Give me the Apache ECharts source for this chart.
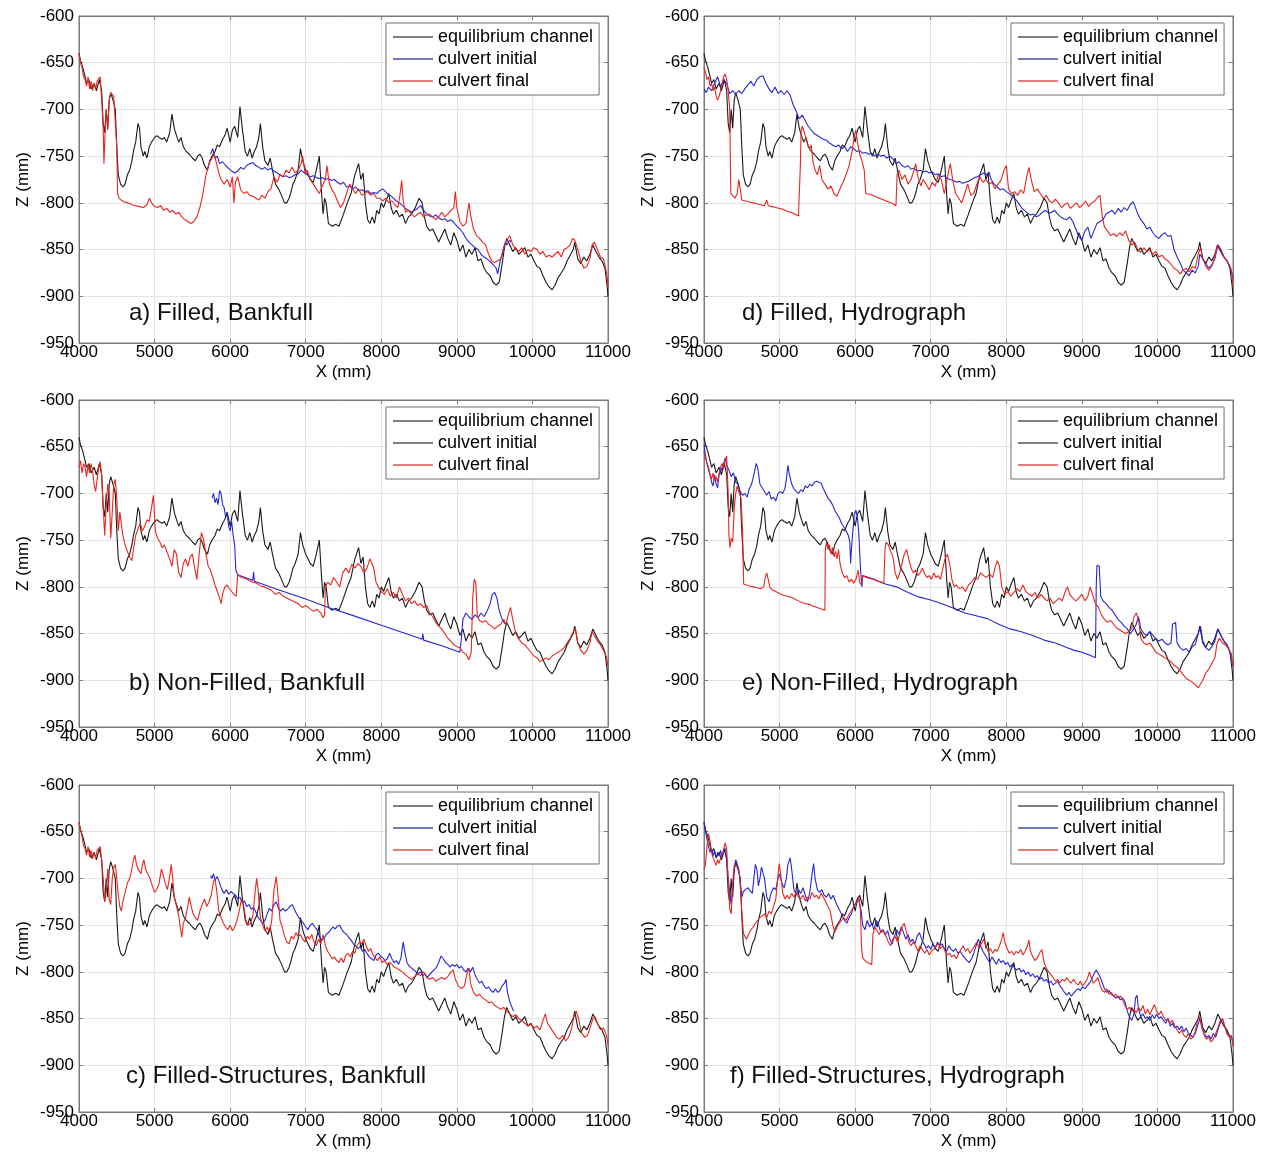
<!DOCTYPE html>
<html><head><meta charset="utf-8">
<script src="https://cdn.jsdelivr.net/npm/echarts/dist/echarts.min.js"></script>
<style>html,body{margin:0;padding:0;background:#fff}#chart{width:1270px;height:1162px}</style>
</head><body><div id="chart"></div>
<script>
// ---------- axis settings ----------
const X_MIN = 4000, X_MAX = 11000, X_STEP = 1000;
const Z_MIN = -950, Z_MAX = -600, Z_STEP = 50;
const X_NAME = 'X (mm)', Z_NAME = 'Z (mm)';
const seriesNames = ['equilibrium channel', 'culvert initial', 'culvert final'];
const panelLabels = ['a) Filled, Bankfull', 'b) Non-Filled, Bankfull', 'c) Filled-Structures, Bankfull',
                     'd) Filled, Hydrograph', 'e) Non-Filled, Hydrograph', 'f) Filled-Structures, Hydrograph'];

// ---------- data: [X (mm), Z (mm)] ----------
const eqChannel = [[4000,-640],[4020,-648],[4050,-655],[4080,-665],[4100,-672],[4130,-668],[4160,-678],[4200,-672],[4230,-680],[4270,-668],[4300,-680],[4320,-715],[4340,-725],[4360,-700],[4380,-720],[4400,-690],[4420,-682],[4450,-690],[4480,-700],[4500,-740],[4520,-770],[4550,-780],[4580,-783],[4610,-780],[4640,-770],[4670,-765],[4700,-755],[4720,-745],[4750,-735],[4780,-715],[4800,-720],[4820,-740],[4850,-750],[4870,-745],[4900,-752],[4930,-740],[4960,-735],[5000,-730],[5030,-728],[5060,-730],[5100,-732],[5130,-730],[5160,-735],[5200,-725],[5230,-705],[5260,-720],[5290,-728],[5320,-735],[5350,-730],[5380,-740],[5420,-745],[5460,-748],[5500,-752],[5540,-755],[5570,-750],[5600,-748],[5630,-752],[5660,-760],[5700,-765],[5730,-755],[5760,-750],[5800,-745],[5830,-738],[5860,-740],[5900,-732],[5930,-728],[5960,-720],[6000,-735],[6030,-722],[6060,-718],[6100,-730],[6130,-697],[6160,-720],[6200,-745],[6230,-750],[6260,-742],[6290,-752],[6320,-745],[6350,-740],[6380,-730],[6400,-715],[6430,-740],[6460,-755],[6500,-760],[6530,-752],[6560,-765],[6600,-780],[6640,-785],[6680,-792],[6720,-800],[6750,-800],[6780,-795],[6800,-790],[6830,-780],[6860,-775],[6900,-765],[6930,-742],[6960,-755],[7000,-765],[7030,-770],[7060,-775],[7100,-778],[7140,-765],[7180,-750],[7210,-790],[7230,-812],[7250,-795],[7270,-800],[7300,-822],[7350,-825],[7400,-823],[7440,-825],[7500,-812],[7550,-800],[7600,-790],[7650,-770],[7700,-758],[7730,-775],[7760,-768],[7790,-800],[7820,-818],[7850,-822],[7880,-815],[7910,-822],[7940,-808],[7970,-812],[8000,-800],[8030,-805],[8060,-798],[8100,-790],[8130,-805],[8160,-812],[8200,-808],[8240,-815],[8280,-812],[8320,-822],[8360,-815],[8400,-812],[8450,-805],[8500,-795],[8540,-800],[8570,-815],[8600,-825],[8640,-830],[8680,-828],[8720,-835],[8760,-842],[8800,-835],[8840,-828],[8880,-838],[8920,-845],[8960,-832],[9000,-840],[9040,-852],[9080,-845],[9120,-858],[9160,-850],[9200,-855],[9240,-848],[9280,-862],[9320,-860],[9360,-870],[9400,-875],[9440,-878],[9480,-885],[9520,-888],[9560,-885],[9600,-865],[9630,-848],[9660,-838],[9700,-845],[9740,-852],[9780,-848],[9820,-855],[9860,-852],[9900,-848],[9940,-858],[9980,-855],[10020,-862],[10060,-868],[10100,-870],[10140,-878],[10180,-885],[10220,-890],[10260,-893],[10300,-888],[10340,-880],[10380,-875],[10420,-870],[10460,-862],[10500,-856],[10540,-850],[10560,-842],[10600,-860],[10640,-865],[10680,-858],[10720,-862],[10760,-855],[10800,-845],[10840,-852],[10880,-858],[10920,-862],[10960,-870],[10990,-890],[11000,-900]];

// a) Filled, Bankfull
const initA = [[5740,-748],[5770,-742],[5800,-752],[5830,-750],[5860,-758],[5900,-756],[5940,-760],[5980,-763],[6020,-766],[6060,-768],[6100,-766],[6140,-762],[6180,-764],[6220,-760],[6260,-758],[6300,-757],[6340,-760],[6380,-762],[6420,-764],[6460,-762],[6500,-765],[6540,-763],[6580,-766],[6620,-768],[6660,-770],[6700,-772],[6740,-771],[6780,-773],[6820,-772],[6860,-770],[6900,-769],[6940,-765],[6980,-768],[7020,-770],[7060,-772],[7100,-771],[7140,-773],[7180,-774],[7220,-773],[7260,-775],[7300,-774],[7340,-776],[7380,-775],[7420,-778],[7460,-780],[7500,-778],[7540,-783],[7580,-782],[7620,-785],[7660,-783],[7700,-787],[7740,-786],[7780,-788],[7820,-787],[7860,-790],[7900,-789],[7940,-790],[7980,-787],[8020,-785],[8040,-784],[8080,-790],[8120,-792],[8160,-795],[8200,-798],[8240,-800],[8280,-803],[8320,-806],[8360,-808],[8400,-810],[8440,-808],[8480,-806],[8520,-803],[8560,-808],[8600,-812],[8640,-814],[8680,-815],[8720,-813],[8760,-816],[8800,-818],[8840,-817],[8880,-820],[8920,-818],[8960,-821],[9000,-825],[9040,-828],[9080,-832],[9120,-838],[9160,-842],[9200,-845],[9240,-848],[9280,-850],[9320,-855],[9360,-858],[9400,-860],[9440,-863],[9480,-866],[9520,-870],[9540,-876],[9560,-868],[9580,-860],[9600,-856],[9620,-848],[9640,-842],[9660,-845],[9700,-840],[9720,-842]];
const finalA = [[4000,-640],[4020,-650],[4040,-655],[4060,-665],[4080,-668],[4100,-675],[4120,-665],[4140,-678],[4160,-670],[4180,-680],[4200,-672],[4220,-678],[4240,-670],[4260,-668],[4280,-665],[4300,-690],[4320,-720],[4330,-758],[4345,-725],[4360,-700],[4380,-722],[4400,-690],[4420,-682],[4440,-683],[4460,-686],[4480,-688],[4500,-740],[4510,-790],[4530,-795],[4560,-797],[4600,-799],[4650,-800],[4700,-802],[4750,-803],[4800,-804],[4850,-805],[4900,-802],[4930,-795],[4960,-800],[5000,-804],[5040,-805],[5080,-803],[5120,-808],[5160,-806],[5200,-810],[5240,-808],[5280,-812],[5320,-810],[5360,-815],[5400,-818],[5440,-820],[5480,-822],[5520,-820],[5560,-815],[5600,-805],[5640,-790],[5680,-770],[5720,-758],[5760,-752],[5790,-748],[5820,-758],[5850,-768],[5880,-775],[5920,-780],[5960,-775],[6000,-783],[6030,-772],[6050,-800],[6070,-778],[6100,-772],[6140,-786],[6180,-790],[6220,-788],[6260,-792],[6300,-793],[6340,-795],[6380,-797],[6420,-792],[6460,-795],[6500,-788],[6540,-785],[6580,-772],[6620,-778],[6660,-770],[6700,-772],[6740,-765],[6780,-768],[6820,-762],[6860,-768],[6900,-765],[6940,-758],[6960,-750],[6990,-768],[7020,-765],[7060,-775],[7100,-780],[7140,-785],[7180,-790],[7220,-782],[7260,-775],[7280,-760],[7310,-778],[7340,-785],[7380,-790],[7420,-798],[7460,-805],[7500,-800],[7540,-790],[7580,-780],[7620,-785],[7660,-790],[7700,-785],[7740,-792],[7780,-790],[7820,-788],[7860,-792],[7900,-790],[7940,-795],[7980,-795],[8020,-798],[8060,-795],[8100,-800],[8140,-798],[8180,-802],[8220,-805],[8250,-790],[8270,-776],[8290,-798],[8320,-810],[8360,-808],[8400,-812],[8440,-815],[8480,-812],[8520,-810],[8560,-815],[8600,-813],[8640,-812],[8680,-815],[8720,-818],[8760,-815],[8800,-810],[8840,-815],[8880,-812],[8920,-808],[8960,-805],[8980,-788],[9000,-805],[9040,-820],[9080,-825],[9120,-822],[9160,-800],[9180,-812],[9220,-828],[9260,-835],[9300,-838],[9340,-842],[9380,-845],[9420,-855],[9460,-862],[9500,-864],[9540,-862],[9580,-860],[9620,-848],[9660,-840],[9700,-835],[9740,-845],[9780,-850],[9820,-852],[9860,-848],[9900,-855],[9940,-850],[9980,-852],[10020,-848],[10060,-850],[10100,-855],[10140,-852],[10180,-858],[10220,-856],[10260,-858],[10300,-855],[10340,-852],[10380,-858],[10420,-850],[10460,-848],[10500,-845],[10530,-838],[10560,-840],[10600,-850],[10640,-862],[10680,-870],[10720,-868],[10760,-860],[10790,-845],[10820,-842],[10860,-850],[10900,-858],[10940,-860],[10970,-870],[10990,-880],[11000,-890]];

// b) Non-Filled, Bankfull
const initB = [[5760,-705],[5780,-700],[5800,-710],[5820,-705],[5840,-712],[5860,-697],[5880,-700],[5900,-712],[5920,-715],[5940,-725],[5960,-722],[5980,-735],[6000,-740],[6020,-730],[6040,-745],[6060,-755],[6075,-782],[6090,-784],[6100,-787],[6300,-793],[6310,-784],[6320,-794],[6600,-802],[7000,-813],[7300,-822],[7600,-830],[8000,-841],[8400,-852],[8540,-856],[8550,-850],[8560,-857],[8800,-863],[9040,-870],[9060,-855],[9080,-835],[9120,-828],[9160,-832],[9200,-835],[9240,-830],[9280,-833],[9320,-828],[9360,-832],[9400,-826],[9440,-818],[9470,-808],[9500,-806],[9530,-812],[9560,-825],[9600,-835],[9640,-840]];
const finalB = [[4000,-672],[4020,-665],[4040,-678],[4060,-668],[4080,-672],[4100,-682],[4120,-670],[4140,-678],[4160,-668],[4180,-676],[4200,-690],[4220,-698],[4240,-685],[4260,-672],[4280,-666],[4300,-680],[4320,-715],[4340,-745],[4360,-712],[4380,-690],[4400,-700],[4420,-748],[4440,-720],[4460,-690],[4480,-685],[4500,-705],[4520,-740],[4540,-720],[4560,-718],[4580,-745],[4610,-755],[4640,-762],[4670,-768],[4700,-772],[4720,-760],[4750,-745],[4780,-738],[4810,-732],[4840,-740],[4870,-735],[4900,-728],[4930,-730],[4960,-715],[4985,-702],[5010,-740],[5040,-748],[5070,-752],[5100,-758],[5130,-755],[5160,-762],[5200,-770],[5230,-778],[5260,-760],[5290,-765],[5320,-785],[5350,-790],[5380,-775],[5410,-770],[5440,-778],[5470,-768],[5500,-765],[5530,-780],[5560,-792],[5590,-765],[5620,-742],[5650,-750],[5680,-765],[5710,-778],[5740,-782],[5770,-790],[5800,-798],[5830,-805],[5860,-812],[5880,-818],[5900,-808],[5930,-800],[5960,-798],[5990,-802],[6020,-805],[6050,-808],[6080,-810],[6100,-787],[6150,-790],[6200,-791],[6250,-793],[6300,-795],[6350,-796],[6400,-799],[6450,-800],[6500,-802],[6550,-804],[6600,-808],[6650,-806],[6700,-810],[6750,-812],[6800,-814],[6850,-816],[6900,-818],[6950,-822],[7000,-820],[7050,-823],[7100,-826],[7150,-824],[7200,-828],[7230,-833],[7250,-830],[7260,-800],[7290,-795],[7330,-798],[7370,-790],[7410,-795],[7450,-800],[7490,-785],[7530,-780],[7570,-785],[7610,-776],[7650,-780],[7690,-775],[7730,-778],[7770,-785],[7810,-780],[7850,-770],[7870,-768],[7900,-780],[7930,-795],[7960,-800],[8000,-805],[8040,-808],[8080,-802],[8120,-810],[8160,-806],[8200,-812],[8240,-800],[8280,-808],[8320,-815],[8360,-812],[8400,-818],[8440,-815],[8480,-820],[8520,-818],[8560,-822],[8600,-820],[8640,-828],[8680,-832],[8720,-838],[8760,-842],[8800,-845],[8840,-850],[8880,-855],[8920,-858],[8960,-862],[9000,-864],[9040,-865],[9080,-870],[9120,-872],[9160,-878],[9190,-870],[9210,-812],[9230,-792],[9250,-795],[9270,-830],[9300,-836],[9340,-838],[9380,-836],[9420,-840],[9460,-842],[9500,-845],[9540,-842],[9580,-840],[9620,-835],[9650,-840],[9680,-830],[9710,-822],[9740,-835],[9780,-850],[9820,-856],[9860,-860],[9900,-862],[9940,-866],[9980,-870],[10020,-874],[10060,-876],[10100,-880],[10140,-878],[10180,-876],[10220,-878],[10260,-874],[10300,-872],[10340,-870],[10380,-868],[10420,-865],[10460,-860],[10500,-855],[10540,-848],[10570,-845],[10600,-860],[10640,-868],[10680,-872],[10720,-868],[10760,-860],[10790,-848],[10820,-852],[10860,-858],[10900,-862],[10940,-868],[10980,-875],[11000,-885]];

// c) Filled-Structures, Bankfull
const initC = [[5740,-697],[5760,-700],[5780,-695],[5800,-702],[5830,-698],[5860,-705],[5890,-712],[5920,-716],[5950,-712],[5980,-717],[6010,-714],[6040,-716],[6070,-718],[6100,-722],[6130,-720],[6160,-726],[6190,-724],[6220,-730],[6250,-728],[6280,-733],[6310,-731],[6340,-736],[6370,-742],[6400,-745],[6430,-748],[6460,-745],[6490,-738],[6520,-732],[6550,-735],[6580,-728],[6610,-725],[6640,-732],[6670,-735],[6700,-732],[6730,-735],[6760,-733],[6790,-730],[6820,-728],[6850,-733],[6880,-738],[6910,-742],[6940,-745],[6970,-748],[7000,-752],[7030,-755],[7060,-750],[7090,-748],[7120,-752],[7150,-755],[7180,-762],[7210,-766],[7240,-765],[7270,-760],[7300,-758],[7330,-755],[7360,-752],[7390,-754],[7420,-751],[7450,-750],[7480,-755],[7510,-758],[7540,-760],[7570,-763],[7600,-766],[7630,-770],[7660,-772],[7690,-775],[7720,-773],[7750,-778],[7780,-776],[7810,-780],[7840,-784],[7870,-786],[7900,-788],[7930,-782],[7960,-780],[7990,-783],[8020,-785],[8050,-788],[8080,-786],[8110,-780],[8140,-786],[8170,-790],[8200,-788],[8230,-792],[8260,-785],[8290,-768],[8310,-778],[8340,-790],[8370,-794],[8400,-796],[8430,-798],[8460,-800],[8490,-802],[8520,-800],[8550,-804],[8580,-802],[8610,-806],[8640,-803],[8670,-800],[8700,-798],[8730,-795],[8760,-790],[8790,-783],[8820,-786],[8850,-790],[8880,-792],[8910,-795],[8940,-792],[8970,-794],[9000,-792],[9030,-796],[9060,-794],[9090,-798],[9120,-800],[9150,-796],[9180,-800],[9210,-795],[9240,-803],[9270,-808],[9300,-812],[9330,-810],[9360,-815],[9390,-818],[9420,-816],[9450,-820],[9480,-822],[9510,-818],[9540,-822],[9570,-820],[9600,-815],[9630,-812],[9650,-808],[9670,-822],[9700,-832],[9730,-838],[9750,-842]];
const finalC = [[4000,-640],[4020,-648],[4040,-655],[4060,-665],[4080,-668],[4100,-675],[4120,-666],[4140,-677],[4160,-670],[4180,-679],[4200,-672],[4220,-678],[4240,-670],[4260,-668],[4280,-666],[4300,-680],[4320,-700],[4340,-725],[4360,-715],[4380,-690],[4400,-722],[4420,-728],[4440,-700],[4460,-688],[4480,-685],[4500,-700],[4520,-718],[4540,-730],[4560,-735],[4580,-725],[4610,-715],[4640,-705],[4670,-700],[4700,-690],[4720,-680],[4740,-675],[4760,-685],[4780,-690],[4800,-688],[4820,-695],[4840,-685],[4860,-680],[4880,-690],[4910,-695],[4940,-700],[4970,-708],[5000,-715],[5030,-712],[5060,-705],[5090,-690],[5110,-695],[5140,-705],[5170,-712],[5200,-698],[5220,-685],[5240,-700],[5260,-720],[5290,-730],[5320,-740],[5340,-752],[5360,-763],[5380,-748],[5410,-742],[5440,-730],[5460,-720],[5480,-728],[5510,-738],[5540,-742],[5570,-745],[5600,-735],[5630,-728],[5660,-722],[5690,-730],[5720,-725],[5750,-718],[5780,-703],[5800,-700],[5820,-712],[5850,-735],[5880,-742],[5910,-748],[5940,-752],[5970,-755],[6000,-750],[6030,-756],[6060,-752],[6090,-745],[6120,-735],[6150,-722],[6180,-730],[6210,-745],[6240,-750],[6270,-748],[6300,-740],[6330,-715],[6350,-700],[6370,-712],[6400,-742],[6430,-750],[6460,-756],[6490,-752],[6520,-758],[6550,-745],[6580,-712],[6610,-698],[6630,-715],[6660,-745],[6690,-752],[6720,-762],[6750,-768],[6780,-770],[6810,-762],[6840,-765],[6870,-758],[6900,-762],[6930,-760],[6960,-765],[6990,-768],[7020,-762],[7050,-765],[7080,-760],[7110,-768],[7140,-772],[7170,-765],[7200,-770],[7230,-760],[7260,-772],[7290,-778],[7320,-782],[7350,-786],[7380,-784],[7410,-788],[7440,-790],[7470,-785],[7500,-790],[7530,-782],[7560,-780],[7590,-784],[7620,-778],[7650,-780],[7680,-772],[7710,-768],[7740,-770],[7770,-765],[7800,-772],[7830,-778],[7860,-775],[7890,-782],[7920,-785],[7950,-788],[7980,-784],[8010,-790],[8040,-788],[8080,-792],[8120,-790],[8160,-794],[8200,-796],[8240,-798],[8280,-800],[8320,-803],[8360,-806],[8400,-808],[8440,-805],[8480,-802],[8520,-804],[8560,-800],[8600,-806],[8640,-808],[8680,-806],[8720,-810],[8760,-808],[8800,-806],[8840,-808],[8880,-805],[8920,-800],[8950,-798],[8980,-808],[9020,-815],[9060,-818],[9100,-815],[9140,-800],[9160,-796],[9180,-812],[9220,-822],[9260,-826],[9300,-824],[9340,-828],[9380,-830],[9420,-833],[9460,-832],[9500,-836],[9540,-838],[9580,-840],[9620,-838],[9660,-842],[9700,-845],[9740,-848],[9780,-846],[9820,-850],[9860,-852],[9900,-855],[9940,-858],[9980,-856],[10020,-860],[10060,-858],[10100,-862],[10140,-852],[10170,-845],[10200,-855],[10240,-860],[10280,-865],[10320,-870],[10360,-872],[10400,-868],[10440,-874],[10480,-870],[10520,-860],[10550,-848],[10580,-842],[10610,-850],[10650,-865],[10690,-870],[10730,-868],[10770,-858],[10800,-850],[10830,-848],[10860,-855],[10900,-862],[10940,-860],[10980,-868],[11000,-878]];

// d) Filled, Hydrograph
const initD = [[4000,-678],[4030,-682],[4060,-676],[4100,-680],[4140,-672],[4180,-665],[4220,-676],[4260,-668],[4300,-672],[4340,-683],[4380,-680],[4420,-684],[4460,-680],[4500,-683],[4540,-678],[4580,-674],[4620,-670],[4660,-675],[4700,-668],[4740,-665],[4780,-664],[4820,-672],[4860,-678],[4900,-682],[4940,-676],[4980,-683],[5020,-680],[5060,-684],[5100,-680],[5140,-685],[5180,-695],[5220,-702],[5260,-710],[5300,-706],[5340,-712],[5380,-718],[5420,-722],[5460,-726],[5500,-728],[5540,-730],[5580,-732],[5620,-733],[5660,-736],[5700,-738],[5740,-740],[5780,-738],[5820,-742],[5860,-740],[5900,-745],[5940,-740],[5980,-742],[6020,-745],[6060,-744],[6100,-747],[6140,-746],[6180,-748],[6220,-747],[6260,-750],[6300,-748],[6340,-750],[6380,-749],[6420,-752],[6460,-750],[6500,-753],[6540,-758],[6580,-756],[6620,-760],[6660,-762],[6700,-760],[6740,-764],[6780,-763],[6820,-766],[6860,-765],[6900,-767],[6940,-766],[6980,-768],[7020,-767],[7060,-770],[7100,-769],[7140,-772],[7180,-771],[7220,-774],[7260,-775],[7300,-776],[7340,-778],[7380,-777],[7420,-779],[7460,-778],[7500,-777],[7540,-775],[7580,-773],[7620,-772],[7660,-770],[7700,-768],[7740,-770],[7770,-767],[7800,-775],[7840,-780],[7880,-783],[7920,-786],[7960,-785],[8000,-788],[8040,-790],[8080,-793],[8120,-796],[8160,-800],[8200,-805],[8240,-808],[8280,-811],[8320,-813],[8360,-812],[8400,-815],[8440,-813],[8480,-810],[8520,-808],[8560,-811],[8600,-810],[8640,-808],[8680,-812],[8720,-815],[8760,-817],[8800,-818],[8840,-815],[8880,-820],[8920,-828],[8960,-836],[9000,-840],[9040,-830],[9080,-826],[9120,-838],[9160,-830],[9200,-822],[9240,-820],[9280,-818],[9320,-812],[9360,-810],[9400,-808],[9440,-812],[9480,-806],[9520,-810],[9560,-805],[9600,-808],[9640,-802],[9680,-799],[9700,-803],[9740,-812],[9780,-818],[9820,-822],[9860,-828],[9900,-826],[9940,-832],[9980,-836],[10020,-838],[10060,-834],[10100,-832],[10140,-836],[10180,-835],[10220,-850],[10260,-858],[10300,-864],[10340,-872],[10380,-875],[10420,-878],[10460,-872],[10500,-875],[10540,-868],[10560,-855],[10600,-860],[10640,-865],[10680,-870],[10720,-866],[10760,-860],[10800,-845],[10840,-850],[10880,-858],[10920,-862],[10960,-868],[11000,-880]];
const finalD = [[4000,-655],[4020,-660],[4040,-668],[4060,-665],[4080,-675],[4100,-672],[4120,-680],[4140,-676],[4160,-685],[4180,-690],[4200,-686],[4220,-680],[4240,-672],[4260,-665],[4280,-662],[4300,-668],[4320,-680],[4340,-700],[4355,-790],[4380,-792],[4410,-795],[4440,-790],[4460,-775],[4480,-785],[4500,-797],[4550,-798],[4600,-799],[4650,-800],[4700,-801],[4750,-802],[4800,-803],[4830,-797],[4850,-803],[4900,-804],[4950,-805],[5000,-806],[5050,-807],[5100,-809],[5150,-810],[5200,-812],[5250,-814],[5268,-815],[5275,-760],[5285,-722],[5300,-718],[5330,-725],[5360,-735],[5400,-742],[5420,-738],[5440,-755],[5470,-765],[5500,-770],[5530,-760],[5560,-775],[5600,-780],[5640,-785],[5680,-782],[5720,-790],[5760,-793],[5800,-785],[5840,-778],[5880,-770],[5920,-760],[5960,-745],[5990,-728],[6010,-722],[6030,-735],[6060,-748],[6090,-755],[6120,-765],[6140,-790],[6200,-791],[6260,-793],[6320,-795],[6380,-797],[6440,-799],[6500,-801],[6540,-803],[6555,-770],[6580,-765],[6620,-775],[6660,-770],[6700,-780],[6740,-775],[6780,-765],[6800,-758],[6830,-772],[6870,-782],[6900,-775],[6940,-780],[6980,-786],[7020,-778],[7060,-782],[7100,-770],[7140,-775],[7180,-790],[7200,-782],[7240,-765],[7260,-758],[7290,-775],[7330,-790],[7370,-795],[7410,-800],[7450,-790],[7490,-780],[7530,-792],[7570,-790],[7610,-780],[7650,-772],[7690,-778],[7730,-775],[7770,-780],[7810,-778],[7850,-785],[7890,-780],[7930,-776],[7970,-765],[8000,-760],[8030,-785],[8070,-790],[8110,-788],[8150,-792],[8190,-786],[8230,-790],[8270,-772],[8300,-762],[8330,-775],[8370,-788],[8410,-785],[8450,-790],[8490,-795],[8530,-792],[8570,-798],[8610,-800],[8650,-796],[8690,-800],[8730,-805],[8770,-802],[8810,-800],[8850,-806],[8890,-803],[8930,-800],[8970,-805],[9010,-802],[9050,-798],[9090,-804],[9130,-800],[9170,-798],[9210,-794],[9240,-792],[9270,-815],[9300,-826],[9340,-830],[9380,-835],[9420,-833],[9460,-836],[9500,-832],[9540,-835],[9580,-830],[9620,-840],[9660,-845],[9700,-842],[9740,-850],[9780,-853],[9820,-848],[9860,-852],[9900,-850],[9940,-855],[9980,-852],[10020,-858],[10060,-856],[10100,-860],[10140,-862],[10180,-866],[10220,-870],[10260,-872],[10300,-876],[10340,-872],[10380,-870],[10420,-874],[10460,-868],[10500,-870],[10540,-855],[10570,-848],[10600,-860],[10640,-868],[10680,-872],[10720,-868],[10760,-858],[10790,-845],[10820,-850],[10860,-856],[10900,-860],[10940,-865],[10980,-872],[11000,-888]];

// e) Non-Filled, Hydrograph
const initE = [[4000,-648],[4020,-660],[4040,-668],[4060,-675],[4080,-680],[4100,-688],[4120,-692],[4140,-680],[4160,-690],[4180,-694],[4200,-680],[4220,-672],[4240,-676],[4260,-668],[4280,-662],[4300,-670],[4330,-675],[4360,-682],[4390,-678],[4420,-688],[4450,-690],[4480,-698],[4510,-702],[4540,-700],[4570,-704],[4600,-695],[4630,-690],[4660,-680],[4690,-668],[4710,-672],[4740,-690],[4770,-694],[4800,-698],[4830,-702],[4860,-698],[4890,-706],[4920,-704],[4950,-708],[4980,-700],[5010,-698],[5040,-700],[5070,-695],[5090,-685],[5110,-670],[5130,-680],[5160,-690],[5190,-695],[5220,-698],[5250,-700],[5280,-696],[5310,-698],[5340,-692],[5370,-694],[5400,-690],[5430,-692],[5460,-688],[5490,-687],[5520,-688],[5550,-689],[5580,-695],[5610,-700],[5640,-705],[5670,-708],[5700,-712],[5730,-718],[5760,-722],[5790,-726],[5820,-732],[5850,-736],[5880,-740],[5910,-745],[5930,-752],[5940,-775],[5950,-760],[5970,-740],[5990,-722],[6010,-718],[6030,-725],[6050,-745],[6070,-780],[6090,-800],[6100,-788],[6250,-792],[6400,-797],[6550,-800],[6700,-806],[6850,-811],[7000,-814],[7150,-818],[7300,-823],[7450,-828],[7600,-831],[7750,-834],[7900,-840],[8050,-845],[8200,-848],[8350,-852],[8500,-857],[8650,-860],[8800,-865],[8900,-868],[9000,-870],[9100,-873],[9180,-876],[9190,-800],[9200,-777],[9230,-778],[9250,-810],[9280,-815],[9320,-818],[9360,-822],[9400,-825],[9440,-830],[9480,-835],[9520,-838],[9560,-842],[9600,-845],[9640,-850],[9680,-846],[9720,-840],[9750,-832],[9780,-845],[9820,-850],[9860,-852],[9900,-848],[9940,-852],[9980,-856],[10020,-858],[10060,-856],[10100,-860],[10140,-862],[10180,-860],[10200,-840],[10240,-838],[10260,-860],[10300,-865],[10340,-868],[10380,-866],[10420,-870],[10460,-864],[10500,-862],[10540,-850],[10570,-842],[10600,-858],[10640,-865],[10680,-868],[10720,-864],[10760,-858],[10800,-845],[10840,-852],[10880,-858],[10920,-862],[10960,-870],[11000,-885]];
const finalE = [[4000,-655],[4020,-662],[4040,-668],[4060,-672],[4080,-680],[4100,-685],[4120,-678],[4140,-686],[4160,-682],[4180,-688],[4200,-678],[4220,-672],[4240,-668],[4260,-672],[4280,-665],[4300,-660],[4320,-700],[4330,-745],[4345,-758],[4360,-748],[4380,-752],[4400,-715],[4420,-700],[4440,-692],[4460,-698],[4490,-705],[4510,-740],[4525,-797],[4560,-798],[4600,-799],[4650,-800],[4700,-801],[4750,-802],[4790,-800],[4810,-790],[4830,-785],[4850,-792],[4870,-800],[4900,-803],[4950,-805],[5000,-807],[5050,-809],[5100,-810],[5150,-811],[5200,-813],[5250,-815],[5300,-817],[5350,-818],[5400,-819],[5450,-821],[5500,-822],[5560,-824],[5600,-825],[5605,-760],[5620,-752],[5640,-760],[5660,-755],[5680,-765],[5700,-758],[5720,-768],[5740,-762],[5760,-770],[5780,-760],[5800,-775],[5830,-785],[5860,-790],[5890,-788],[5920,-795],[5950,-792],[5980,-796],[6010,-792],[6040,-782],[6060,-795],[6080,-798],[6100,-788],[6150,-790],[6200,-791],[6250,-792],[6300,-794],[6350,-795],[6380,-796],[6395,-760],[6410,-752],[6440,-755],[6470,-762],[6500,-768],[6530,-785],[6560,-792],[6590,-785],[6620,-775],[6650,-765],[6680,-760],[6710,-770],[6740,-780],[6770,-785],[6800,-782],[6830,-788],[6860,-785],[6890,-780],[6920,-786],[6950,-790],[6980,-788],[7010,-792],[7040,-785],[7070,-790],[7100,-788],[7130,-792],[7160,-780],[7190,-770],[7220,-765],[7250,-775],[7280,-792],[7310,-800],[7340,-798],[7380,-802],[7420,-800],[7460,-805],[7500,-798],[7540,-795],[7580,-790],[7620,-792],[7660,-785],[7700,-788],[7740,-790],[7780,-786],[7820,-790],[7850,-780],[7880,-772],[7910,-778],[7940,-800],[7980,-808],[8020,-805],[8060,-810],[8100,-806],[8140,-802],[8180,-805],[8220,-798],[8260,-805],[8300,-808],[8340,-810],[8380,-806],[8420,-812],[8460,-808],[8500,-812],[8540,-815],[8580,-812],[8620,-818],[8660,-815],[8700,-812],[8740,-815],[8780,-805],[8810,-800],[8840,-808],[8880,-812],[8920,-815],[8960,-812],[9000,-808],[9040,-815],[9080,-810],[9110,-800],[9140,-808],[9180,-818],[9220,-822],[9260,-830],[9300,-835],[9340,-838],[9380,-836],[9420,-840],[9460,-844],[9500,-846],[9540,-848],[9580,-850],[9620,-848],[9660,-845],[9690,-832],[9720,-828],[9750,-835],[9780,-855],[9820,-860],[9860,-862],[9900,-860],[9940,-865],[9980,-870],[10020,-872],[10060,-874],[10100,-876],[10140,-878],[10180,-880],[10220,-884],[10260,-886],[10300,-890],[10340,-894],[10380,-898],[10420,-900],[10460,-902],[10500,-905],[10540,-908],[10560,-910],[10600,-900],[10640,-892],[10680,-888],[10720,-882],[10760,-876],[10790,-860],[10820,-855],[10860,-860],[10900,-862],[10940,-866],[10980,-872],[11000,-885]];

// f) Filled-Structures, Hydrograph
const initF = [[4000,-640],[4020,-650],[4040,-658],[4060,-666],[4080,-672],[4100,-668],[4120,-676],[4140,-670],[4160,-678],[4180,-672],[4200,-676],[4220,-670],[4240,-678],[4260,-672],[4280,-668],[4300,-680],[4320,-700],[4340,-715],[4360,-728],[4380,-710],[4400,-690],[4420,-680],[4440,-678],[4460,-690],[4480,-705],[4500,-720],[4520,-714],[4550,-712],[4580,-710],[4610,-713],[4640,-716],[4660,-700],[4680,-685],[4700,-690],[4720,-708],[4740,-700],[4760,-688],[4780,-686],[4800,-700],[4830,-720],[4860,-725],[4890,-715],[4920,-710],[4950,-712],[4980,-700],[5000,-695],[5030,-705],[5060,-710],[5090,-700],[5110,-685],[5140,-678],[5160,-690],[5190,-712],[5220,-718],[5250,-712],[5280,-716],[5310,-710],[5340,-718],[5370,-725],[5400,-715],[5430,-695],[5450,-684],[5470,-700],[5500,-712],[5530,-715],[5560,-712],[5590,-718],[5620,-720],[5650,-716],[5680,-722],[5710,-718],[5740,-725],[5770,-730],[5800,-735],[5830,-740],[5860,-745],[5890,-748],[5920,-742],[5950,-738],[5980,-730],[6010,-726],[6040,-720],[6060,-718],[6080,-735],[6100,-750],[6130,-755],[6160,-745],[6190,-752],[6220,-748],[6250,-755],[6280,-745],[6310,-750],[6340,-758],[6370,-755],[6400,-760],[6430,-756],[6460,-765],[6490,-770],[6520,-762],[6550,-755],[6580,-760],[6610,-752],[6640,-758],[6670,-765],[6700,-760],[6730,-768],[6760,-765],[6790,-770],[6820,-762],[6850,-758],[6880,-765],[6910,-770],[6940,-775],[6970,-772],[7000,-776],[7030,-770],[7060,-775],[7090,-768],[7120,-772],[7150,-770],[7180,-775],[7210,-778],[7240,-772],[7270,-776],[7300,-778],[7330,-775],[7360,-780],[7390,-778],[7420,-782],[7450,-785],[7480,-788],[7510,-790],[7540,-786],[7570,-780],[7600,-772],[7630,-765],[7660,-772],[7690,-778],[7720,-782],[7750,-786],[7780,-790],[7810,-784],[7840,-788],[7870,-792],[7900,-786],[7930,-790],[7960,-788],[7990,-792],[8020,-790],[8050,-795],[8080,-792],[8110,-796],[8140,-798],[8170,-796],[8200,-800],[8230,-798],[8260,-803],[8290,-800],[8320,-805],[8350,-802],[8380,-806],[8410,-804],[8440,-808],[8470,-806],[8500,-810],[8530,-808],[8560,-812],[8590,-810],[8620,-814],[8650,-812],[8680,-810],[8710,-815],[8740,-818],[8770,-822],[8800,-825],[8830,-822],[8860,-826],[8890,-823],[8920,-820],[8950,-818],[8980,-820],[9010,-816],[9040,-818],[9070,-815],[9100,-812],[9130,-808],[9160,-802],[9190,-798],[9210,-796],[9240,-805],[9270,-812],[9300,-818],[9330,-822],[9360,-820],[9390,-824],[9420,-826],[9450,-828],[9480,-826],[9510,-830],[9540,-828],[9570,-832],[9600,-842],[9630,-848],[9660,-852],[9690,-845],[9710,-828],[9730,-825],[9750,-840],[9780,-848],[9810,-845],[9840,-850],[9870,-848],[9900,-852],[9930,-846],[9960,-850],[9990,-845],[10020,-850],[10050,-848],[10080,-852],[10110,-855],[10140,-850],[10170,-858],[10200,-855],[10230,-860],[10260,-858],[10290,-862],[10320,-858],[10350,-864],[10380,-860],[10410,-866],[10440,-868],[10470,-870],[10500,-866],[10530,-858],[10560,-850],[10590,-860],[10620,-866],[10650,-870],[10680,-868],[10710,-872],[10740,-866],[10770,-870],[10800,-862],[10830,-855],[10860,-850],[10890,-858],[10920,-865],[10950,-868],[10980,-870],[11000,-875]];
const finalF = [[4000,-690],[4020,-685],[4040,-665],[4060,-652],[4080,-660],[4100,-672],[4120,-678],[4140,-682],[4160,-686],[4180,-680],[4200,-684],[4220,-678],[4250,-672],[4280,-662],[4300,-668],[4320,-700],[4340,-732],[4360,-738],[4380,-705],[4400,-686],[4420,-685],[4440,-688],[4470,-695],[4500,-735],[4520,-758],[4540,-762],[4560,-765],[4590,-760],[4620,-755],[4650,-752],[4680,-748],[4710,-745],[4740,-742],[4770,-740],[4800,-738],[4830,-742],[4860,-735],[4890,-738],[4920,-730],[4950,-722],[4975,-700],[4995,-684],[5015,-695],[5040,-715],[5070,-722],[5100,-718],[5130,-722],[5160,-716],[5190,-720],[5220,-715],[5250,-720],[5280,-722],[5310,-718],[5340,-724],[5370,-720],[5400,-722],[5430,-715],[5460,-720],[5490,-718],[5520,-722],[5550,-716],[5580,-720],[5610,-725],[5640,-730],[5670,-735],[5700,-748],[5730,-758],[5760,-752],[5790,-748],[5820,-745],[5850,-742],[5880,-745],[5910,-740],[5940,-736],[5970,-732],[6000,-728],[6030,-725],[6050,-720],[6070,-735],[6085,-775],[6100,-785],[6130,-788],[6160,-790],[6190,-791],[6220,-792],[6235,-760],[6260,-752],[6290,-756],[6320,-760],[6350,-755],[6380,-758],[6410,-762],[6440,-768],[6470,-772],[6500,-765],[6530,-762],[6560,-768],[6590,-760],[6620,-752],[6650,-748],[6680,-758],[6710,-768],[6740,-772],[6770,-768],[6800,-772],[6830,-778],[6860,-772],[6890,-776],[6920,-780],[6950,-776],[6980,-782],[7010,-778],[7040,-776],[7070,-772],[7100,-770],[7130,-775],[7160,-772],[7190,-778],[7220,-782],[7250,-780],[7280,-784],[7310,-782],[7340,-786],[7370,-780],[7400,-776],[7430,-772],[7460,-778],[7490,-775],[7520,-780],[7550,-776],[7580,-772],[7610,-768],[7640,-775],[7670,-770],[7700,-765],[7730,-772],[7760,-778],[7790,-775],[7820,-780],[7850,-776],[7880,-778],[7910,-772],[7940,-765],[7960,-758],[7980,-768],[8010,-775],[8040,-780],[8070,-778],[8100,-782],[8130,-778],[8160,-780],[8190,-776],[8220,-782],[8250,-778],[8280,-772],[8300,-766],[8320,-778],[8350,-784],[8380,-788],[8410,-785],[8440,-780],[8470,-776],[8500,-790],[8530,-796],[8560,-800],[8590,-803],[8620,-806],[8650,-810],[8680,-808],[8710,-812],[8740,-808],[8770,-810],[8800,-806],[8830,-810],[8860,-812],[8890,-808],[8920,-812],[8950,-814],[8980,-810],[9010,-815],[9040,-812],[9070,-808],[9100,-800],[9120,-805],[9150,-812],[9180,-810],[9210,-806],[9240,-814],[9270,-820],[9300,-822],[9330,-818],[9360,-824],[9390,-822],[9420,-826],[9450,-824],[9480,-828],[9510,-826],[9540,-830],[9570,-836],[9600,-840],[9630,-838],[9660,-842],[9690,-840],[9720,-844],[9750,-838],[9780,-842],[9810,-836],[9840,-845],[9870,-840],[9900,-846],[9930,-840],[9960,-835],[9990,-842],[10020,-846],[10050,-842],[10080,-848],[10110,-852],[10140,-850],[10170,-855],[10200,-852],[10230,-858],[10260,-862],[10290,-866],[10320,-862],[10350,-868],[10380,-870],[10410,-866],[10440,-872],[10470,-870],[10500,-864],[10530,-852],[10560,-848],[10590,-860],[10620,-868],[10650,-872],[10680,-870],[10710,-875],[10740,-872],[10770,-866],[10800,-860],[10830,-852],[10860,-850],[10890,-858],[10920,-866],[10950,-870],[10980,-868],[11000,-880]];

const initialSets = [initA, initB, initC, initD, initE, initF];
const finalSets = [finalA, finalB, finalC, finalD, finalE, finalF];

// ---------- layout (pixels) ----------
const PLOT_W = 529, PLOT_H = 327;
const layout = [
  {left: 79,  top: 16,  lab: [129, 301]},
  {left: 79,  top: 400, lab: [129, 671]},
  {left: 79,  top: 785, lab: [126, 1064]},
  {left: 704, top: 16,  lab: [742, 301]},
  {left: 704, top: 400, lab: [742, 671]},
  {left: 704, top: 785, lab: [730, 1064]}
];
const darkInitLegend = [false, true, false, false, true, false];
const COLORS = {eq: '#1a1a1a', init: '#2626d6', fin: '#e8261f'};
const FONT = 'Liberation Sans, Arial, Helvetica, sans-serif';
const AXIS_COLOR = '#7a7a7a';
const plainNum = v => String(v);

const grids = [], xAxes = [], yAxes = [], series = [], legends = [], titles = [];
layout.forEach((p, i) => {
  grids.push({left: p.left, top: p.top, width: PLOT_W, height: PLOT_H, show: true,
    borderColor: AXIS_COLOR, borderWidth: 1, backgroundColor: '#fff', containLabel: false});
  const base = {type: 'value', gridIndex: i, min: X_MIN, max: X_MAX, interval: X_STEP};
  xAxes.push(Object.assign({}, base, {
    position: 'bottom', name: X_NAME, nameLocation: 'middle', nameGap: 21,
    nameTextStyle: {fontSize: 17, color: '#000', fontFamily: FONT},
    axisLine: {show: true, onZero: false, lineStyle: {color: AXIS_COLOR, width: 1}},
    axisTick: {show: true, inside: true, length: 4, lineStyle: {color: AXIS_COLOR}},
    axisLabel: {fontSize: 17, color: '#000', margin: 1, fontFamily: FONT, formatter: plainNum,
      showMinLabel: true, showMaxLabel: true},
    splitLine: {show: true, lineStyle: {color: '#e4e4e4', width: 1}}
  }));
  xAxes.push(Object.assign({}, base, {
    position: 'top',
    axisLine: {show: true, onZero: false, lineStyle: {color: AXIS_COLOR, width: 1}},
    axisTick: {show: true, inside: true, length: 4, lineStyle: {color: AXIS_COLOR}},
    axisLabel: {show: false}, splitLine: {show: false}
  }));
  const ybase = {type: 'value', gridIndex: i, min: Z_MIN, max: Z_MAX, interval: Z_STEP};
  yAxes.push(Object.assign({}, ybase, {
    position: 'left', name: Z_NAME, nameLocation: 'middle', nameGap: 47, nameRotate: 90,
    nameTextStyle: {fontSize: 17, color: '#000', fontFamily: FONT},
    axisLine: {show: true, onZero: false, lineStyle: {color: AXIS_COLOR, width: 1}},
    axisTick: {show: true, inside: true, length: 4, lineStyle: {color: AXIS_COLOR}},
    axisLabel: {fontSize: 17, color: '#000', margin: 5, fontFamily: FONT, formatter: plainNum,
      showMinLabel: true, showMaxLabel: true},
    splitLine: {show: true, lineStyle: {color: '#e4e4e4', width: 1}}
  }));
  yAxes.push(Object.assign({}, ybase, {
    position: 'right',
    axisLine: {show: true, onZero: false, lineStyle: {color: AXIS_COLOR, width: 1}},
    axisTick: {show: true, inside: true, length: 4, lineStyle: {color: AXIS_COLOR}},
    axisLabel: {show: false}, splitLine: {show: false}
  }));
  const common = {type: 'line', xAxisIndex: 2 * i, yAxisIndex: 2 * i, showSymbol: false, symbol: 'none',
    clip: true, animation: false, silent: true, z: 3};
  series.push(Object.assign({}, common, {name: seriesNames[0], data: eqChannel,
    color: COLORS.eq, lineStyle: {color: COLORS.eq, width: 1.1}}));
  series.push(Object.assign({}, common, {name: seriesNames[1], data: initialSets[i],
    color: COLORS.init, lineStyle: {color: COLORS.init, width: 1.1}}));
  series.push(Object.assign({}, common, {name: seriesNames[2], data: finalSets[i],
    color: COLORS.fin, lineStyle: {color: COLORS.fin, width: 1.1}}));
  legends.push({
    left: p.left + 307, top: p.top + 7, orient: 'vertical',
    backgroundColor: '#fff', borderColor: '#6e6e6e', borderWidth: 1, borderRadius: 0,
    padding: [5, 6, 5, 7], itemGap: 4, itemWidth: 40, itemHeight: 1.5, icon: 'rect',
    selectedMode: false,
    textStyle: {fontSize: 18, color: '#000', fontFamily: FONT, lineHeight: 18},
    data: [
      {name: seriesNames[0], itemStyle: {color: '#555'}},
      {name: seriesNames[1], itemStyle: {color: darkInitLegend[i] ? '#555' : '#4a4aa8'}},
      {name: seriesNames[2], itemStyle: {color: '#d9534f'}}
    ]
  });
  titles.push({text: panelLabels[i], left: p.lab[0], top: p.lab[1], padding: 0,
    textStyle: {fontSize: 24, fontWeight: 'normal', color: '#111', fontFamily: FONT}});
});

const chart = echarts.init(document.getElementById('chart'), null, {renderer: 'canvas'});
chart.setOption({
  animation: false,
  backgroundColor: '#fff',
  title: titles,
  grid: grids,
  xAxis: xAxes,
  yAxis: yAxes,
  legend: legends,
  series: series
});
</script>
</body></html>
